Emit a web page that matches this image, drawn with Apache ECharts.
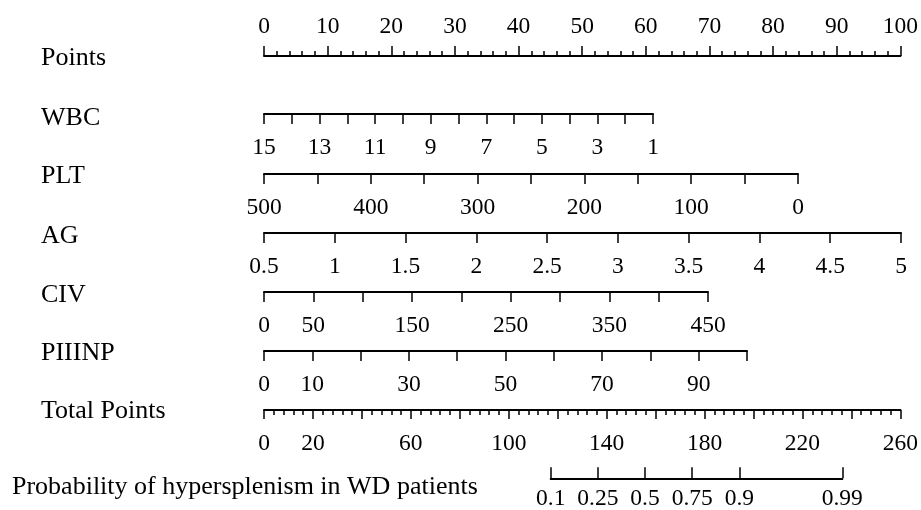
<!DOCTYPE html>
<html><head><meta charset="utf-8">
<script src="https://cdn.jsdelivr.net/npm/echarts@6/dist/echarts.min.js"></script>
<style>html,body{margin:0;padding:0;background:#fff}#c{width:921px;height:510px}</style>
</head><body><div id="c"></div>
<script>
// ---- data ----
const rowNames = ['Points','WBC','PLT','AG','CIV','PIIINP','Total Points','Probability of hypersplenism in WD patients'];
const pointsRange = [0, 100];   const pointsStep = 10;  const pointsLabels = [0,10,20,30,40,50,60,70,80,90,100];
const wbcRange = [1, 15];       const wbcStep = 1;      const wbcLabels = [15,13,11,9,7,5,3,1];
const pltRange = [0, 500];      const pltStep = 50;     const pltLabels = [500,400,300,200,100,0];
const agRange = [0.5, 5];       const agStep = 0.5;     const agLabels = [0.5,1,1.5,2,2.5,3,3.5,4,4.5,5];
const civRange = [0, 450];      const civStep = 50;     const civLabels = [0,50,150,250,350,450];
const piiinpRange = [0, 100];   const piiinpStep = 10;  const piiinpLabels = [0,10,30,50,70,90];
const totalRange = [0, 260];    const totalStep = 20;   const totalLabels = [0,20,60,100,140,180,220,260];
const probTicks = [0.1, 0.25, 0.5, 0.75, 0.9, 0.99];

// ---- layout ----
const FONT = 'Liberation Serif';
const FS = 23.5;    // tick labels
const TFS = 26;     // row titles
const logit = p => Math.log(p / (1 - p));
const rows = [
  {range: pointsRange, step: pointsStep, labels: pointsLabels, left: 264, width: 637, y: 56,  pos: 'top', inverse: false, minor: true, tickLen: 10, minorLen: 5},
  {range: wbcRange,    step: wbcStep,    labels: wbcLabels,    left: 264, width: 389, y: 114, pos: 'bottom', inverse: true,  tickLen: 10},
  {range: pltRange,    step: pltStep,    labels: pltLabels,    left: 264, width: 534, y: 174, pos: 'bottom', inverse: true,  tickLen: 10},
  {range: agRange,     step: agStep,     labels: agLabels,     left: 264, width: 637, y: 233, pos: 'bottom', inverse: false, tickLen: 10},
  {range: civRange,    step: civStep,    labels: civLabels,    left: 264, width: 444, y: 292, pos: 'bottom', inverse: false, tickLen: 10},
  {range: piiinpRange, step: piiinpStep, labels: piiinpLabels, left: 264, width: 483, y: 351, pos: 'bottom', inverse: false, tickLen: 10},
  {range: totalRange,  step: totalStep,  labels: totalLabels,  left: 264, width: 637, y: 410, pos: 'bottom', inverse: false, minor: true, tickLen: 9, minorLen: 5}
];
const titleY = [58, 118.5, 176.5, 236.5, 295, 353.5, 411.5, 487];
const titleX = [41, 41, 41, 41, 41, 41, 41, 12];

const grids = [], xAxes = [], yAxes = [];
rows.forEach((r, i) => {
  grids.push({left: r.left, width: r.width, top: r.pos === 'top' ? r.y : r.y - 1, height: 1, containLabel: false});
  yAxes.push({type: 'value', gridIndex: i, show: false});
  const labs = r.labels;
  xAxes.push({
    type: 'value', gridIndex: i, position: r.pos, min: r.range[0], max: r.range[1], interval: r.step, inverse: r.inverse,
    axisLine: {show: true, onZero: false, lineStyle: {color: '#000', width: 2}},
    axisTick: {show: true, inside: false, length: r.tickLen, lineStyle: {color: '#000', width: 1.5}},
    minorTick: {show: !!r.minor, splitNumber: 5, length: r.minorLen || 5, lineStyle: {color: '#000', width: 1.5}},
    splitLine: {show: false}, minorSplitLine: {show: false},
    axisLabel: {
      show: true, color: '#000', fontFamily: FONT, fontSize: FS, margin: r.pos === 'top' ? 17 : 22,
      showMinLabel: true, showMaxLabel: true, hideOverlap: false,
      formatter: v => labs.some(l => Math.abs(l - v) < 1e-6) ? String(+v.toFixed(6)) : ''
    }
  });
});
// probability axis (logit scale is linear)
const pi = rows.length;
grids.push({left: 550.7, width: 291.6, top: 478, height: 1, containLabel: false});
yAxes.push({type: 'value', gridIndex: pi, show: false});
const probLogits = probTicks.map(logit);
xAxes.push({
  type: 'value', gridIndex: pi, position: 'bottom', min: logit(probTicks[0]), max: logit(probTicks[probTicks.length - 1]),
  axisLine: {show: true, onZero: false, lineStyle: {color: '#000', width: 2}},
  axisTick: {show: true, inside: true, length: 11, customValues: probLogits, lineStyle: {color: '#000', width: 1.5}},
  splitLine: {show: false},
  axisLabel: {
    show: true, color: '#000', fontFamily: FONT, fontSize: FS, margin: 8.5, customValues: probLogits,
    showMinLabel: true, showMaxLabel: true, hideOverlap: false,
    formatter: v => {
      let best = 0, bd = Infinity;
      probLogits.forEach((l, k) => { const d = Math.abs(l - v); if (d < bd) { bd = d; best = k; } });
      return String(probTicks[best]);
    }
  }
});

const graphics = rowNames.map((t, i) => ({
  type: 'text', x: titleX[i], y: titleY[i],
  style: {text: t, fontFamily: FONT, fontSize: TFS, fill: '#000', align: 'left', verticalAlign: 'middle', textAlign: 'left', textVerticalAlign: 'middle'}
}));

const chart = echarts.init(document.getElementById('c'), null, {renderer: 'canvas'});
chart.setOption({
  animation: false,
  backgroundColor: '#fff',
  grid: grids, xAxis: xAxes, yAxis: yAxes,
  graphic: graphics,
  series: []
});
</script></body></html>
